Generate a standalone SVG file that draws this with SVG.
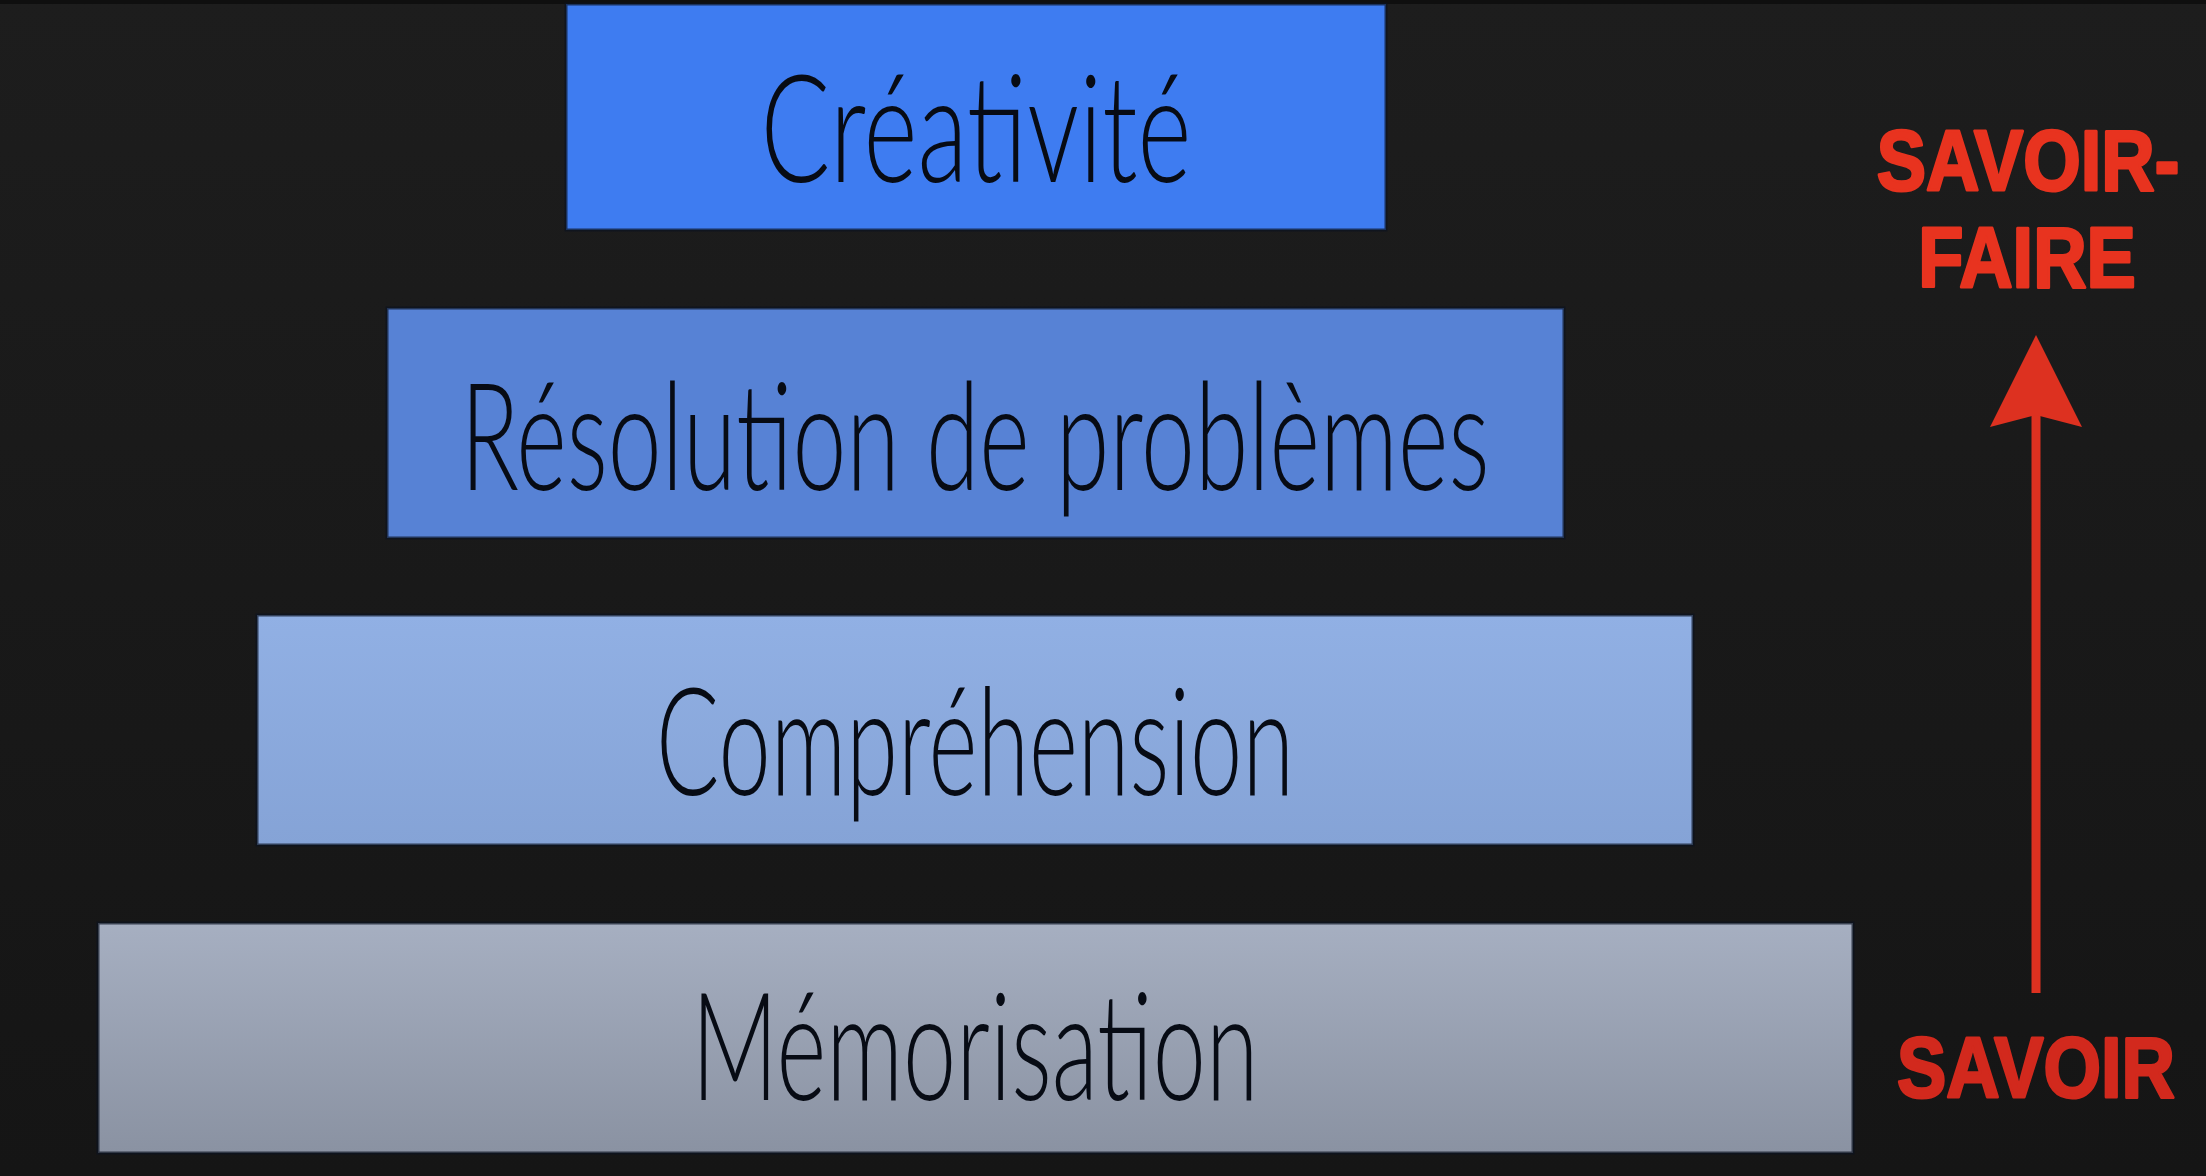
<svg xmlns="http://www.w3.org/2000/svg" width="2206" height="1176" viewBox="0 0 2206 1176">
  <defs>
    <linearGradient id="bg" x1="0" y1="0" x2="0" y2="1">
      <stop offset="0" stop-color="#1d1d1d"/>
      <stop offset="1" stop-color="#151515"/>
    </linearGradient>
    <linearGradient id="g-comp" x1="0" y1="0" x2="0" y2="1">
      <stop offset="0" stop-color="#91b0e4"/>
      <stop offset="1" stop-color="#85a3d6"/>
    </linearGradient>
    <linearGradient id="g-mem" x1="0" y1="0" x2="0" y2="1">
      <stop offset="0" stop-color="#a6afc1"/>
      <stop offset="1" stop-color="#8a92a2"/>
    </linearGradient>
    <marker id="arrowhead" viewBox="0 0 92 92" refX="12" refY="46" markerWidth="92" markerHeight="92" markerUnits="userSpaceOnUse" orient="auto">
      <polygon points="92,46 0,0 12,46 0,92" fill="#dd3120"/>
    </marker>
  </defs>
  <style>
    .box { stroke: #0b1220; stroke-opacity: 0.7; stroke-width: 3; }
    .lbl { font-family: Lato, "Open Sans", "DejaVu Sans", sans-serif; font-weight: 300; font-size: 150px; fill: #070b14; text-anchor: middle; }
    .red { font-family: "Liberation Sans", Arial, sans-serif; font-weight: 700; font-size: 86px; text-anchor: middle; stroke-width: 3; stroke-linejoin: round; }
  </style>
  <rect x="0" y="0" width="2206" height="1176" fill="url(#bg)"/>
  <rect x="0" y="0" width="2206" height="4" fill="#0f0f0f"/>

  <g id="node-creativite">
    <rect class="box" x="566" y="4" width="820" height="226" fill="#3e7cf1"/>
    <text class="lbl" x="976" y="182" textLength="431" lengthAdjust="spacingAndGlyphs">Créativité</text>
  </g>
  <g id="node-resolution">
    <rect class="box" x="387" y="308" width="1177" height="230" fill="#5782d5"/>
    <text class="lbl" x="975" y="490" textLength="1029" lengthAdjust="spacingAndGlyphs">Résolution de problèmes</text>
  </g>
  <g id="node-comprehension">
    <rect class="box" x="257" y="615" width="1436" height="230" fill="url(#g-comp)"/>
    <text class="lbl" x="975" y="795" textLength="638" lengthAdjust="spacingAndGlyphs">Compréhension</text>
  </g>
  <g id="node-memorisation">
    <rect class="box" x="98" y="923" width="1755" height="230" fill="url(#g-mem)"/>
    <text class="lbl" x="975" y="1100" textLength="567" lengthAdjust="spacingAndGlyphs">Mémorisation</text>
  </g>

  <g id="node-savoir-faire">
    <text class="red" transform="translate(2028,190) scale(0.86,1)" x="0" y="0" fill="#e8331f" stroke="#e8331f">SAVOIR-</text>
    <text class="red" transform="translate(2027,287) scale(0.86,1)" x="0" y="0" fill="#e8331f" stroke="#e8331f">FAIRE</text>
  </g>
  <g id="node-savoir">
    <text class="red" transform="translate(2036,1097) scale(0.86,1)" x="0" y="0" fill="#d2291d" stroke="#d2291d">SAVOIR</text>
  </g>

  <g id="connectors">
    <line x1="2036" y1="993" x2="2036" y2="415" stroke="#dd3120" stroke-width="9" marker-end="url(#arrowhead)"/>
  </g>
</svg>
